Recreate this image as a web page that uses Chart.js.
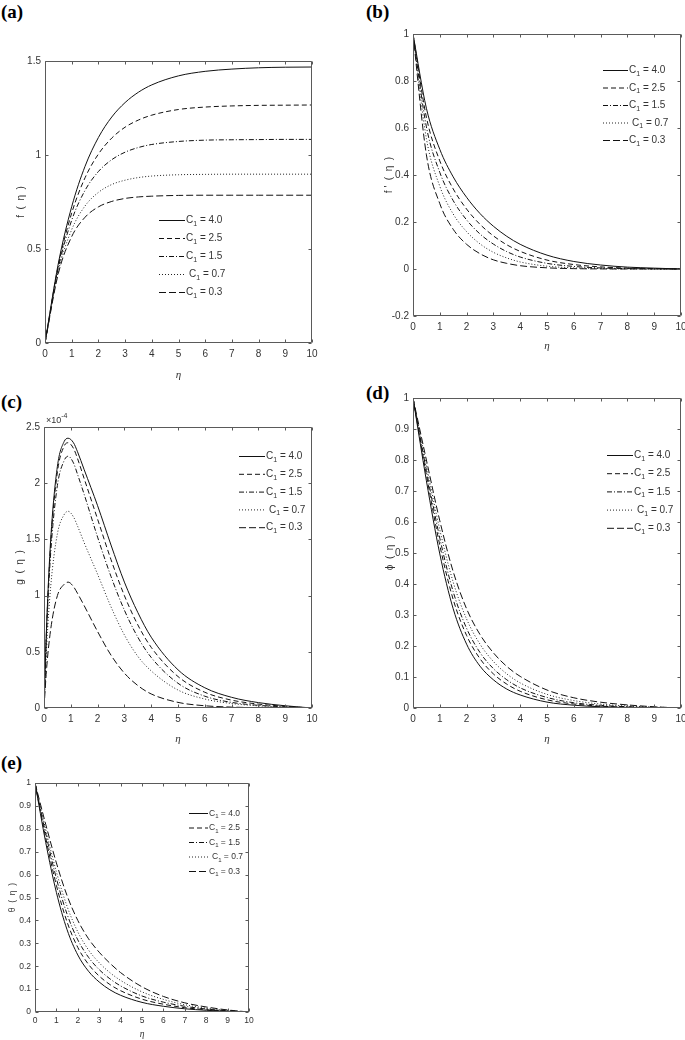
<!DOCTYPE html>
<html><head><meta charset="utf-8">
<script src="https://cdn.jsdelivr.net/npm/chart.js@4.4.0/dist/chart.umd.min.js"></script>
<style>
html,body{margin:0;padding:0;background:#fff;}
body{width:685px;height:1040px;position:relative;overflow:hidden;}
canvas{position:absolute;}
.lbl{position:absolute;font-family:'Liberation Serif','Times New Roman',serif;font-weight:bold;font-size:19px;line-height:1;color:#000;}
</style></head><body>
<div class="lbl" style="left:1px;top:2px">(a)</div>
<div class="lbl" style="left:366px;top:2px">(b)</div>
<div class="lbl" style="left:1px;top:392px">(c)</div>
<div class="lbl" style="left:366px;top:383px">(d)</div>
<div class="lbl" style="left:1px;top:753px">(e)</div>
<canvas id="ca"></canvas>
<canvas id="cb"></canvas>
<canvas id="cc"></canvas>
<canvas id="cd"></canvas>
<canvas id="ce"></canvas>
<script>
// ---------------- DATA ----------------
const c1Values = ['4.0', '2.5', '1.5', '0.7', '0.3'];
const eta = [0, 0.5, 1, 1.5, 2, 2.5, 3, 3.5, 4, 5, 6, 7, 8, 9, 10];
const etaG = [0, 0.1, 0.25, 0.5, 0.75, 0.9, 1.1, 1.25, 1.5, 2, 2.5, 3, 3.5, 4, 5, 6, 7, 8, 9, 10];
const xTicks = [0, 1, 2, 3, 4, 5, 6, 7, 8, 9, 10];

// (a) f(eta)
const f_40 = [0, 0.424, 0.725, 0.940, 1.093, 1.202, 1.279, 1.334, 1.373, 1.421, 1.445, 1.457, 1.464, 1.467, 1.468];
const f_25 = [0, 0.413, 0.691, 0.879, 1.005, 1.090, 1.148, 1.186, 1.212, 1.242, 1.255, 1.261, 1.264, 1.265, 1.266];
const f_15 = [0, 0.400, 0.653, 0.812, 0.912, 0.975, 1.015, 1.040, 1.056, 1.072, 1.079, 1.081, 1.082, 1.083, 1.083];
const f_07 = [0, 0.383, 0.603, 0.729, 0.801, 0.843, 0.866, 0.880, 0.888, 0.895, 0.897, 0.898, 0.898, 0.898, 0.898];
const f_03 = [0, 0.370, 0.566, 0.669, 0.724, 0.753, 0.769, 0.777, 0.781, 0.785, 0.786, 0.786, 0.786, 0.786, 0.786];

// (b) f'(eta)
const fp_40 = [1, 0.684, 0.509, 0.392, 0.305, 0.236, 0.182, 0.139, 0.105, 0.059, 0.032, 0.017, 0.008, 0.0037, 0];
const fp_25 = [1, 0.646, 0.460, 0.341, 0.255, 0.190, 0.141, 0.103, 0.075, 0.038, 0.019, 0.009, 0.004, 0.0016, 0];
const fp_15 = [1, 0.605, 0.411, 0.291, 0.209, 0.149, 0.106, 0.074, 0.051, 0.024, 0.011, 0.0045, 0.0018, 0.0006, 0];
const fp_07 = [1, 0.555, 0.352, 0.234, 0.159, 0.107, 0.071, 0.047, 0.030, 0.012, 0.005, 0.0018, 0.0006, 0.0002, 0];
const fp_03 = [1, 0.486, 0.278, 0.169, 0.105, 0.065, 0.039, 0.024, 0.014, 0.005, 0.0015, 0.0004, 0.0001, 0, 0];

// (c) g(eta), in units of 1e-4
const g_40 = [0, 0.75, 1.50, 2.15, 2.37, 2.40, 2.36, 2.28, 2.12, 1.80, 1.45, 1.12, 0.85, 0.63, 0.34, 0.18, 0.095, 0.048, 0.020, 0];
const g_25 = [0, 0.73, 1.46, 2.10, 2.33, 2.36, 2.31, 2.22, 2.04, 1.68, 1.32, 1.00, 0.74, 0.54, 0.28, 0.14, 0.070, 0.035, 0.015, 0];
const g_15 = [0, 0.70, 1.38, 1.98, 2.20, 2.24, 2.18, 2.08, 1.90, 1.52, 1.17, 0.87, 0.63, 0.45, 0.22, 0.105, 0.050, 0.024, 0.010, 0];
const g_07 = [0, 0.55, 1.08, 1.55, 1.72, 1.75, 1.70, 1.62, 1.47, 1.19, 0.90, 0.65, 0.46, 0.33, 0.16, 0.080, 0.040, 0.019, 0.008, 0];
const g_03 = [0, 0.36, 0.70, 1.00, 1.10, 1.12, 1.08, 1.02, 0.91, 0.68, 0.47, 0.31, 0.20, 0.125, 0.050, 0.020, 0.008, 0.003, 0.001, 0];

// (d) phi(eta)
const phi_40 = [1, 0.733, 0.497, 0.320, 0.206, 0.135, 0.091, 0.061, 0.042, 0.019, 0.009, 0.004, 0.0017, 0.0007, 0];
const phi_25 = [1, 0.752, 0.525, 0.350, 0.234, 0.159, 0.110, 0.077, 0.054, 0.0265, 0.013, 0.006, 0.0028, 0.0012, 0];
const phi_15 = [1, 0.766, 0.548, 0.375, 0.257, 0.179, 0.127, 0.091, 0.065, 0.034, 0.017, 0.0086, 0.0042, 0.0019, 0];
const phi_07 = [1, 0.783, 0.575, 0.406, 0.287, 0.206, 0.150, 0.110, 0.081, 0.044, 0.024, 0.0127, 0.0065, 0.003, 0];
const phi_03 = [1, 0.800, 0.604, 0.440, 0.320, 0.237, 0.178, 0.134, 0.102, 0.058, 0.033, 0.0187, 0.010, 0.004, 0];

// (e) theta(eta)
const th_40 = [1, 0.741, 0.522, 0.359, 0.249, 0.178, 0.131, 0.097, 0.073, 0.042, 0.025, 0.014, 0.0075, 0.003, 0];
const th_25 = [1, 0.761, 0.553, 0.393, 0.282, 0.208, 0.157, 0.120, 0.093, 0.056, 0.034, 0.019, 0.010, 0.004, 0];
const th_15 = [1, 0.780, 0.583, 0.427, 0.315, 0.239, 0.185, 0.145, 0.114, 0.070, 0.043, 0.025, 0.013, 0.0055, 0];
const th_07 = [1, 0.797, 0.612, 0.461, 0.350, 0.271, 0.215, 0.172, 0.138, 0.088, 0.055, 0.032, 0.017, 0.007, 0];
const th_03 = [1, 0.820, 0.651, 0.508, 0.400, 0.320, 0.261, 0.213, 0.172, 0.110, 0.068, 0.040, 0.022, 0.009, 0];

// ---------------- STYLES ----------------
const dashes = [[], [5, 3], [5, 2, 1, 2], [1, 2], [7, 3]];
const lineColors = ['#111', '#111', '#111', '#222', '#111'];
const legendTextShift = [0, 0, 0, 3, 0];
const NARROW = "'Liberation Sans Narrow','Liberation Sans',Arial,sans-serif";
const TEXT = '#333';
const FRAME = '#5a5a5a';

const framePlugin = {
  id: 'frameLegend',
  afterDraw(chart, args, o) {
    const {ctx, chartArea: a, scales: {x, y}} = chart;
    ctx.save();
    ctx.strokeStyle = FRAME; ctx.lineWidth = 1; ctx.setLineDash([]);
    const L = Math.round(a.left) + 0.5, R = Math.round(a.right) - 0.5;
    const T = Math.round(a.top) + 0.5, B = Math.round(a.bottom) - 0.5;
    ctx.beginPath();
    ctx.rect(L, T, R - L, B - T);
    const tl = o.tickLen;
    x.ticks.forEach(t => {
      const p = Math.round(x.getPixelForValue(t.value)) + 0.5;
      ctx.moveTo(p, B); ctx.lineTo(p, B - tl);
      ctx.moveTo(p, T); ctx.lineTo(p, T + tl);
    });
    y.ticks.forEach(t => {
      const p = Math.round(y.getPixelForValue(t.value)) + 0.5;
      ctx.moveTo(L, p); ctx.lineTo(L + tl, p);
      ctx.moveTo(R, p); ctx.lineTo(R - tl, p);
    });
    ctx.stroke();
    // legend
    const lg = o.legend;
    chart.data.datasets.forEach((ds, i) => {
      const yy = lg.y + i * lg.dy + 0.5;
      ctx.strokeStyle = ds.borderColor; ctx.lineWidth = 1;
      ctx.setLineDash(ds.borderDash || []);
      ctx.beginPath(); ctx.moveTo(lg.x, yy); ctx.lineTo(lg.x + lg.len, yy); ctx.stroke();
      ctx.setLineDash([]);
      ctx.fillStyle = TEXT; ctx.textBaseline = 'middle'; ctx.textAlign = 'left';
      let tx = lg.x + lg.len + 1 + legendTextShift[i];
      ctx.font = lg.fs + 'px ' + NARROW;
      ctx.fillText('C', tx, yy); tx += ctx.measureText('C').width;
      ctx.font = Math.round(lg.fs * 0.7) + 'px ' + NARROW;
      ctx.fillText('1', tx, yy + lg.fs * 0.35); tx += ctx.measureText('1').width;
      ctx.font = lg.fs + 'px ' + NARROW;
      ctx.fillText(' = ' + ds.label, tx, yy);
    });
    if (o.exponent) {
      ctx.fillStyle = TEXT; ctx.textBaseline = 'alphabetic'; ctx.textAlign = 'left';
      ctx.font = '9px ' + NARROW;
      ctx.fillText('\u00d710', a.left + 2, a.top - 4);
      const w = ctx.measureText('\u00d710').width;
      ctx.font = '7px ' + NARROW;
      ctx.fillText('-4', a.left + 2 + w, a.top - 9);
    }
    ctx.restore();
  }
};

function makePanel(cfg) {
  const cv = document.getElementById(cfg.id);
  cv.width = cfg.w; cv.height = cfg.h;
  cv.style.left = cfg.left + 'px'; cv.style.top = cfg.top + 'px';
  cv.style.width = cfg.w + 'px'; cv.style.height = cfg.h + 'px';
  const datasets = cfg.series.map((vals, i) => ({
    label: c1Values[i],
    data: vals.map((v, k) => ({x: cfg.xs[k], y: v})),
    borderColor: lineColors[i],
    borderDash: dashes[i],
    borderWidth: 1,
    pointRadius: 0,
    fill: false,
    cubicInterpolationMode: 'monotone'
  }));
  const fmt = v => String(Math.round(v * 10) / 10);
  const tickFont = {family: NARROW, size: cfg.fs};
  return new Chart(cv, {
    type: 'line',
    data: {datasets},
    plugins: [framePlugin],
    options: {
      responsive: false, animation: false, devicePixelRatio: 1,
      layout: {padding: {top: cfg.padTop, right: cfg.padRight, left: 0, bottom: 0}},
      plugins: {
        legend: {display: false}, tooltip: {enabled: false},
        frameLegend: {tickLen: 3, legend: cfg.legend, exponent: cfg.exponent}
      },
      scales: {
        x: {
          type: 'linear', min: 0, max: 10,
          grid: {display: false, drawTicks: false},
          border: {display: false},
          afterBuildTicks: s => { s.ticks = xTicks.map(v => ({value: v})); },
          ticks: {autoSkip: false, maxRotation: 0, padding: cfg.xPad, color: TEXT, font: tickFont, callback: fmt},
          title: {display: true, text: '\u03b7', color: TEXT, padding: {top: 0, bottom: 0},
                  font: {family: "'Liberation Serif','DejaVu Serif',serif", style: 'italic', size: cfg.fs + 1}},
          afterFit: s => { s.height = cfg.xH; s.paddingLeft = 0; s.paddingRight = 0; s.paddingTop = 0; s.paddingBottom = 0; }
        },
        y: {
          type: 'linear', min: cfg.ymin, max: cfg.ymax,
          grid: {display: false, drawTicks: false},
          border: {display: false},
          afterBuildTicks: s => { s.ticks = cfg.yTicks.map(v => ({value: v})); },
          ticks: {autoSkip: false, padding: 4, color: TEXT, font: tickFont, callback: fmt},
          title: {display: true, text: cfg.ytitle, color: TEXT, padding: {top: cfg.ytPad, bottom: 0},
                  font: {family: NARROW, size: cfg.fs}},
          afterFit: s => { s.width = cfg.yW; s.paddingLeft = 0; s.paddingRight = 0; s.paddingTop = 0; s.paddingBottom = 0; }
        }
      }
    }
  });
}

const yTicksA = [0, 0.5, 1, 1.5];
const yTicksB = [-0.2, 0, 0.2, 0.4, 0.6, 0.8, 1];
const yTicksC = [0, 0.5, 1, 1.5, 2, 2.5];
const yTicksD = [0, 0.1, 0.2, 0.3, 0.4, 0.5, 0.6, 0.7, 0.8, 0.9, 1];

makePanel({id: 'ca', left: 0, top: 40, w: 330, h: 342, padTop: 21, padRight: 18, yW: 45, xH: 39, fs: 10, xPad: 5, ytPad: 15,
  xs: eta, series: [f_40, f_25, f_15, f_07, f_03], ymin: 0, ymax: 1.5, yTicks: yTicksA, ytitle: 'f  (  \u03b7  )',
  legend: {x: 159, y: 180, dy: 18, len: 26, fs: 10}});
makePanel({id: 'cb', left: 340, top: 20, w: 345, h: 333, padTop: 14, padRight: 4, yW: 73, xH: 37, fs: 10, xPad: 5, ytPad: 43,
  xs: eta, series: [fp_40, fp_25, fp_15, fp_07, fp_03], ymin: -0.2, ymax: 1, yTicks: yTicksB, ytitle: "f '  (  \u03b7  )",
  legend: {x: 263, y: 50, dy: 17.5, len: 25, fs: 10}});
makePanel({id: 'cc', left: 0, top: 405, w: 330, h: 341, padTop: 22, padRight: 18, yW: 44, xH: 38, fs: 10, xPad: 5, ytPad: 14,
  xs: etaG, series: [g_40, g_25, g_15, g_07, g_03], ymin: 0, ymax: 2.5, yTicks: yTicksC, ytitle: 'g  (  \u03b7  )',
  legend: {x: 239, y: 51, dy: 17.8, len: 26, fs: 10}, exponent: true});
makePanel({id: 'cd', left: 340, top: 385, w: 345, h: 361, padTop: 13, padRight: 4, yW: 73, xH: 38, fs: 10, xPad: 5, ytPad: 44,
  xs: eta, series: [phi_40, phi_25, phi_15, phi_07, phi_03], ymin: 0, ymax: 1, yTicks: yTicksD, ytitle: '\u03d5  (  \u03b7  )',
  legend: {x: 267, y: 70, dy: 18.2, len: 26, fs: 10}});
makePanel({id: 'ce', left: 0, top: 770, w: 260, h: 270, padTop: 13, padRight: 11, yW: 35, xH: 28, fs: 8.5, xPad: 4, ytPad: 8,
  xs: eta, series: [th_40, th_25, th_15, th_07, th_03], ymin: 0, ymax: 1, yTicks: yTicksD, ytitle: '\u03b8  (  \u03b7  )',
  legend: {x: 189, y: 43, dy: 14.5, len: 19, fs: 8.5}});
</script>
</body></html>
